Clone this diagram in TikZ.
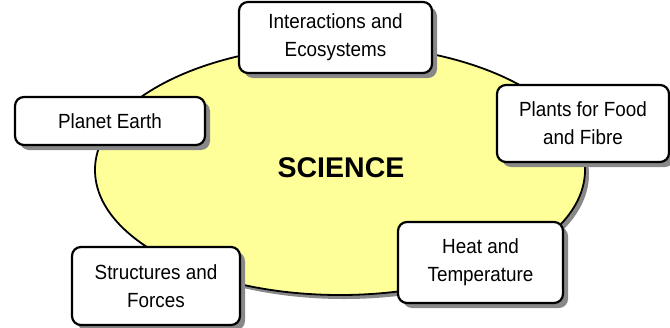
\documentclass[tikz,border=0pt]{standalone}
\usepackage{fontspec}
\setmainfont{Liberation Sans}
\newfontfamily\boxfont[FakeStretch=0.92]{Liberation Sans}
\usetikzlibrary{shadows,shapes.geometric}
\definecolor{ellfill}{HTML}{FFFF99}
\definecolor{shadowgray}{HTML}{888888}
\tikzset{
  topicbox/.style={draw=black, line width=2.2pt, fill=white, rounded corners=9pt,
    align=center, inner sep=0pt, font=\boxfont\fontsize{20.5}{28}\selectfont,
    drop shadow={shadow xshift=5pt, shadow yshift=-5pt, fill=shadowgray, opacity=1}},
  core/.style={ellipse, draw=black, line width=1.8pt, fill=ellfill, inner sep=0pt,
    drop shadow={shadow xshift=4pt, shadow yshift=-4pt, fill=shadowgray, opacity=1}}
}
\begin{document}
\begin{tikzpicture}[x=1pt,y=-1pt]
\useasboundingbox (0,0) rectangle (670,327);
\node[core, minimum width=490pt, minimum height=250pt] (sci) at (340,170) {};
\node[font=\fontsize{28.5}{30}\selectfont\bfseries] (scitext) at (341,168) {SCIENCE};
\node[topicbox, minimum width=193pt, minimum height=71pt] (inter) at (335.5,37.5) {Interactions and\\Ecosystems};
\node[topicbox, minimum width=190pt, minimum height=48pt] (earth) at (110,121) {Planet Earth};
\node[topicbox, minimum width=172pt, minimum height=77pt] (plants) at (583,123.5) {Plants for Food\\and Fibre};
\node[topicbox, minimum width=168pt, minimum height=78pt] (struct) at (156,286) {Structures and\\Forces};
\node[topicbox, minimum width=165pt, minimum height=81pt] (heat) at (480.5,262.5) {Heat and\\Temperature};
\end{tikzpicture}
\end{document}
